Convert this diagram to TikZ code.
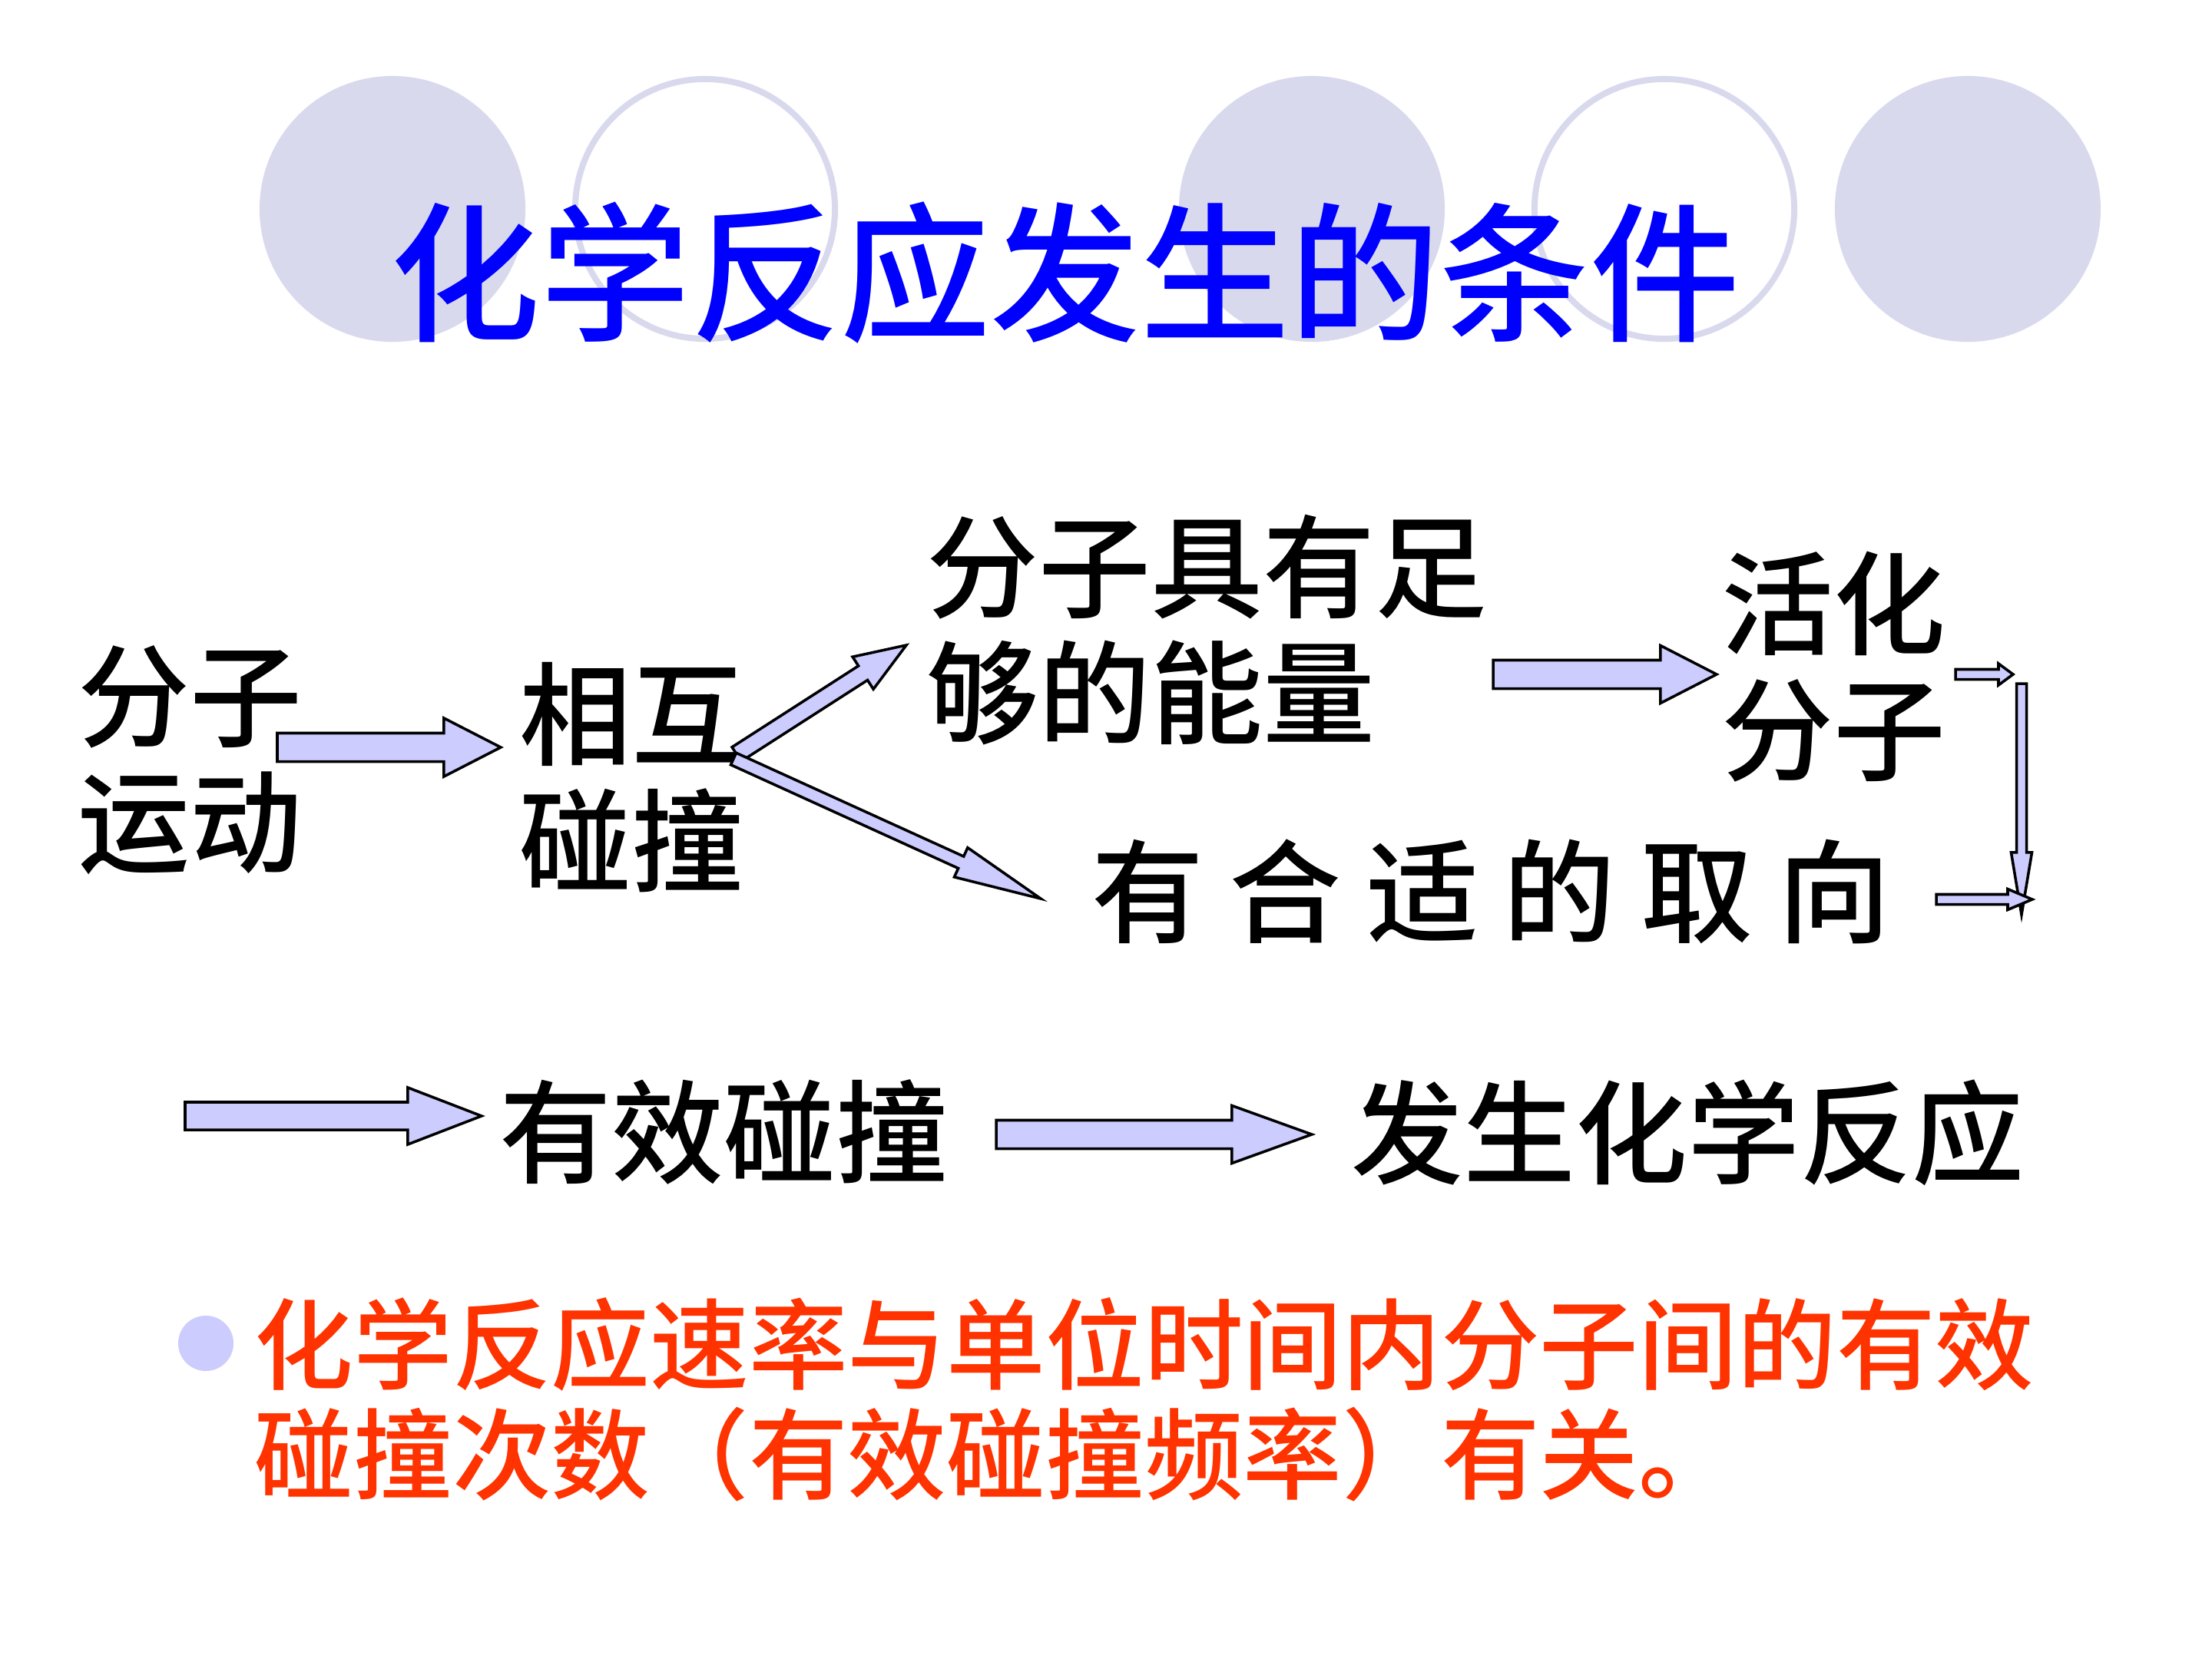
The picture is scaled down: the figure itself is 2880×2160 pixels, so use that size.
\documentclass[tikz,border=0pt]{standalone}
\usepackage{fontspec}
\setmainfont{Noto Sans CJK SC}[UprightFont={* Medium}, BoldFont={* Bold}]
\usetikzlibrary{calc}

\definecolor{circfill}{RGB}{217,217,238}
\definecolor{arrfill}{RGB}{204,204,255}
\definecolor{titleblue}{RGB}{0,0,255}
\definecolor{notered}{RGB}{255,51,0}

% block arrow: from, to, half body width, half head width, head length
\newcommand{\blockarr}[5]{%
    \coordinate (hb) at ($(#2)!#5!(#1)$);
    \draw[blockarrow] ($(#1)!#3!90:(#2)$) -- ($(hb)!#3!90:(#2)$)
        -- ($(hb)!#4!90:(#2)$) -- (#2) -- ($(hb)!#4!-90:(#2)$)
        -- ($(hb)!#3!-90:(#2)$) -- ($(#1)!#3!-90:(#2)$) -- cycle;
}

\begin{document}
\begin{tikzpicture}[
    x=0.01cm, y=-0.01cm,
    deco/.style={
        fill=circfill
    },
    ring/.style={
        draw=circfill,
        line width=0.08cm
    },
    title/.style={
        inner sep=0pt,
        text=titleblue,
        font=\fontsize{55.5}{60}\selectfont
    },
    word/.style={
        inner sep=0pt,
        anchor=west,
        align=left,
        font=\fontsize{41.5}{46.7}\selectfont
    },
    note/.style={
        inner sep=0pt,
        anchor=west,
        align=left,
        text=notered,
        font=\fontsize{36.6}{40.7}\selectfont
    },
    dot/.style={
        circle,
        fill=arrfill,
        inner sep=0pt,
        minimum size=0.72cm
    },
    blockarrow/.style={
        draw=black,
        fill=arrfill,
        line width=1pt,
        line join=miter
    }
]

\useasboundingbox (0,0) rectangle (2880,2160);
\fill[white] (0,0) rectangle (2880,2160);

% Background circles
\foreach \cx in {511,1708,2562}
    \fill[deco] (\cx,272) circle[radius=1.73cm];
\foreach \cx in {918,2167}
    \draw[ring] (\cx,272) circle[radius=1.69cm];

% Title
\node[title] (title) at (1387,355) {化学反应发生的条件};

% Nodes: upper chain
\node[word] (motion) at (101,990) {分子\\运动};
\node[word] (collide) at (676,1012) {相互\\碰撞};
\node[word] (energy) at (1206,820) {分子具有足\\够的能量};
\node[word] (active) at (2241,868) {活化\\分子};
\node[word] (orient) at (1421,1161) {有 合 适 的 取 向};

% Nodes: lower chain
\node[word] (effective) at (650,1474) {有效碰撞};
\node[word] (reaction) at (1759,1475) {发生化学反应};

% Note
\node[dot] (bullet) at (268,1749) {};
\node[note] (rate) at (331,1822) {化学反应速率与单位时间内分子间的有效\\碰撞次数（有效碰撞频率）有关。};

% Arrow ends
\coordinate (a1s) at (361,973);   \coordinate (a1e) at (652,973);
\coordinate (a2s) at (959,982);   \coordinate (a2e) at (1180,840);
\coordinate (a3s) at (955,988);   \coordinate (a3e) at (1355,1170);
\coordinate (a4s) at (1944,878);  \coordinate (a4e) at (2235,878);
\coordinate (a5s) at (2546,878);  \coordinate (a5e) at (2621,878);
\coordinate (a6s) at (2632,890);  \coordinate (a6e) at (2632,1191);
\coordinate (a7s) at (2521,1171); \coordinate (a7e) at (2646,1171);
\coordinate (a8s) at (241,1453);  \coordinate (a8e) at (627,1453);
\coordinate (a9s) at (1297,1477); \coordinate (a9e) at (1708,1477);

% Arrows
\blockarr{a1s}{a1e}{0.185cm}{0.38cm}{0.74cm}
\blockarr{a2s}{a2e}{0.11cm}{0.25cm}{0.67cm}
\blockarr{a3s}{a3e}{0.085cm}{0.21cm}{1.14cm}
\blockarr{a4s}{a4e}{0.185cm}{0.375cm}{0.73cm}
\blockarr{a5s}{a5e}{0.065cm}{0.14cm}{0.19cm}
\blockarr{a6s}{a6e}{0.065cm}{0.135cm}{0.81cm}
\blockarr{a7s}{a7e}{0.065cm}{0.135cm}{0.32cm}
\blockarr{a8s}{a8e}{0.18cm}{0.37cm}{0.96cm}
\blockarr{a9s}{a9e}{0.185cm}{0.375cm}{1.04cm}

\end{tikzpicture}
\end{document}
